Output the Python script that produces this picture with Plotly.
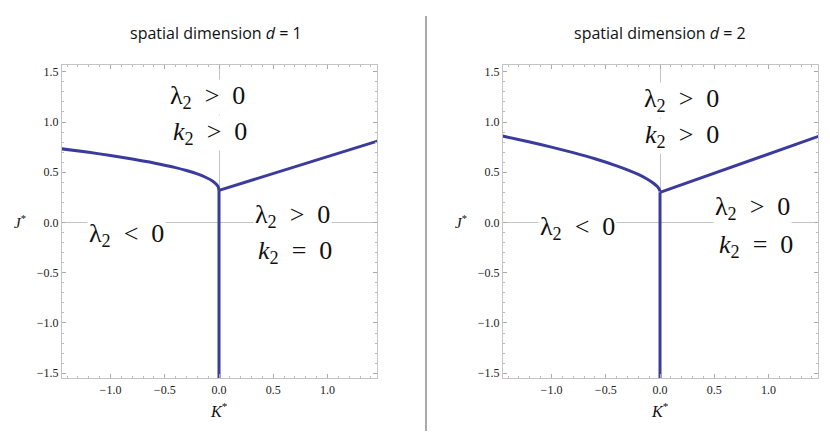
import plotly.graph_objects as go

# ---- data ----
K_left_d1 = [-1.45, -1.2, -1.0, -0.8, -0.6, -0.4, -0.3, -0.2, -0.12, -0.06, -0.025, -0.008, 0.0]
J_left_d1 = [0.733, 0.698, 0.667, 0.632, 0.593, 0.546, 0.517, 0.483, 0.448, 0.413, 0.381, 0.356, 0.32]
K_right_d1 = [0.0, 1.46]
J_right_d1 = [0.32, 0.81]

K_left_d2 = [-1.45, -1.2, -1.0, -0.8, -0.6, -0.4, -0.3, -0.2, -0.12, -0.06, -0.025, -0.008, 0.0]
J_left_d2 = [0.860, 0.801, 0.75, 0.695, 0.634, 0.564, 0.524, 0.478, 0.433, 0.391, 0.358, 0.334, 0.31]
K_right_d2 = [0.0, 1.46]
J_right_d2 = [0.30, 0.857]

K_vert = [0.0, 0.0]
J_vert_d1 = [0.32, -1.7]
J_vert_d2 = [0.30, -1.7]

titles = ["spatial dimension <i>d</i> = 1", "spatial dimension <i>d</i> = 2"]
tick_vals = [-1.5, -1.0, -0.5, 0.0, 0.5, 1.0, 1.5]

# region labels: (text, K, J) per panel
labels_d1 = [("λ<sub>2</sub>\u2002>\u20020", -0.11, 1.25),
             ("<i>k</i><sub>2</sub>\u2002>\u20020", -0.08, 0.89),
             ("λ<sub>2</sub>\u2002<\u20020", -0.85, -0.12),
             ("λ<sub>2</sub>\u2002>\u20020", 0.68, 0.065),
             ("<i>k</i><sub>2</sub>\u2002=\u20020", 0.70, -0.29)]
labels_d2 = [("λ<sub>2</sub>\u2002>\u20020", 0.20, 1.22),
             ("<i>k</i><sub>2</sub>\u2002>\u20020", 0.20, 0.86),
             ("λ<sub>2</sub>\u2002<\u20020", -0.76, -0.05),
             ("λ<sub>2</sub>\u2002>\u20020", 0.85, 0.14),
             ("<i>k</i><sub>2</sub>\u2002=\u20020", 0.88, -0.23)]

# page body has an 8px margin, so the figure is drawn at (8, 8)
OFF = 8
W, H = 830 - OFF, 433 - OFF
line_col = "#3b3b9e"
frame_col = "#c4c4c4"
serif = "Times New Roman"


def px(x):
    return (x - OFF) / W


def py(y):
    return 1 - (y - OFF) / H


fig = go.Figure()


def add_panel(xa, ya, Kl, Jl, Kr, Jr, Jv):
    for xs, ys in [(Kl, Jl), (Kr, Jr), (K_vert, Jv)]:
        fig.add_trace(go.Scatter(x=xs, y=ys, mode="lines", xaxis=xa, yaxis=ya,
                                 line=dict(color=line_col, width=3, shape="spline", smoothing=0.6),
                                 showlegend=False, hoverinfo="skip", cliponaxis=True))


add_panel("x", "y", K_left_d1, J_left_d1, K_right_d1, J_right_d1, J_vert_d1)
add_panel("x2", "y2", K_left_d2, J_left_d2, K_right_d2, J_right_d2, J_vert_d2)

ydom = [py(380), py(65)]
xdoms = [[px(62), px(377)], [px(503), px(818)]]

common_axis = dict(
    showgrid=False, showline=True, linecolor=frame_col, linewidth=1, mirror="ticks",
    ticks="inside", ticklen=4, tickcolor="#aaaaaa", tickwidth=1,
    zeroline=True, zerolinecolor=frame_col, zerolinewidth=1,
    tickfont=dict(family=serif, size=12, color="#222222"),
    tickvals=tick_vals, tickformat=".1f",
    minor=dict(dtick=0.1, ticks="inside", ticklen=2, tickcolor="#bbbbbb", showgrid=False),
    fixedrange=True,
)

layout = dict(width=W, height=H, margin=dict(l=0, r=0, t=0, b=0),
              paper_bgcolor="white", plot_bgcolor="white", showlegend=False,
              font=dict(family=serif))
for i, (xn, yn) in enumerate([("xaxis", "yaxis"), ("xaxis2", "yaxis2")]):
    xa = dict(common_axis, domain=xdoms[i], range=[-1.447, 1.456],
              anchor="y" if i == 0 else "y2")
    ya = dict(common_axis, domain=ydom, range=[-1.55, 1.57],
              anchor="x" if i == 0 else "x2")
    layout[xn] = xa
    layout[yn] = ya
fig.update_layout(**layout)

ann = []
for i, labs in enumerate([labels_d1, labels_d2]):
    xr, yr = ("x", "y") if i == 0 else ("x2", "y2")
    for txt, kx, jy in labs:
        ann.append(dict(text=txt, x=kx, y=jy, xref=xr, yref=yr, showarrow=False,
                        xanchor="center", yanchor="middle",
                        font=dict(family=serif, size=26, color="#111111"),
                        bgcolor="white", borderpad=1))
for i, t in enumerate(titles):
    ann.append(dict(text=t, x=px(216 if i == 0 else 660), y=py(33), xref="paper", yref="paper",
                    xanchor="center", yanchor="middle", showarrow=False,
                    font=dict(family="Open Sans", size=16, color="#111111")))
    ann.append(dict(text="<i>J</i><sup>*</sup>", x=px(20 if i == 0 else 461), y=py(223),
                    xref="paper", yref="paper", xanchor="center", yanchor="middle",
                    showarrow=False, font=dict(family=serif, size=15, color="#111111")))
    ann.append(dict(text="<i>K</i><sup>*</sup>", x=px(219 if i == 0 else 660), y=py(412),
                    xref="paper", yref="paper", xanchor="center", yanchor="middle",
                    showarrow=False, font=dict(family=serif, size=16, color="#111111")))
fig.update_layout(annotations=ann)

# divider line between panels
fig.add_shape(type="line", xref="paper", yref="paper", x0=px(426), x1=px(426),
              y0=0, y1=py(16), line=dict(color="#aaaaaa", width=2))

fig.write_html("out.html")
